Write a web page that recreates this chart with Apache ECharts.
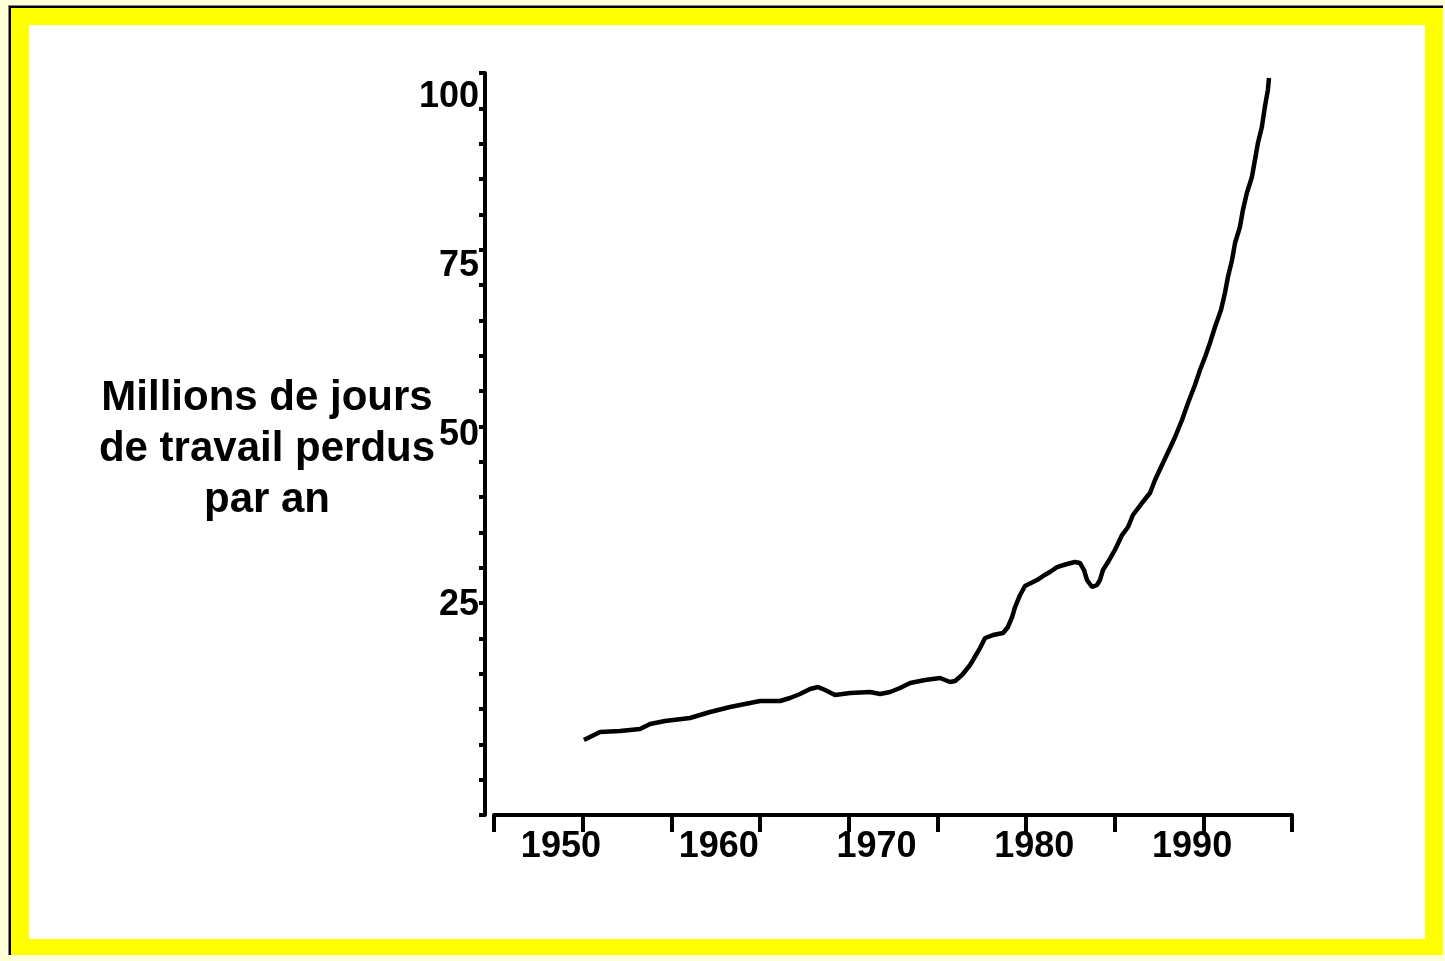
<!DOCTYPE html>
<html>
<head>
<meta charset="utf-8">
<script src="https://cdn.jsdelivr.net/npm/echarts@6/dist/echarts.min.js"></script>
<style>
  html, body { margin: 0; padding: 0; width: 1445px; height: 961px; overflow: hidden; background: #FFFFD8; }
  .f { position: absolute; }
  #f1 { left: 8px; top: 5px; width: 1435px; height: 950px; background: #808080; }
  #f2 { left: 9px; top: 6px; width: 1434px; height: 949px; background: #000000; }
  #f3 { left: 11px; top: 8px; width: 1432px; height: 947px; background: #FFFF00; }
  #f4 { left: 29px; top: 25px; width: 1396px; height: 914px; background: #FFFFFF; }
  #chart { position: absolute; left: 0; top: 0; width: 1445px; height: 961px; }
</style>
</head>
<body>
<div class="f" id="f1"></div>
<div class="f" id="f2"></div>
<div class="f" id="f3"></div>
<div class="f" id="f4"></div>
<div id="chart"></div>
<script>
// Years (x) and millions of working days lost per year (y)
const years = [1951.46, 1952.48, 1953.75, 1955.01, 1955.65, 1956.60, 1958.18, 1959.45, 1960.72, 1962.62,
  1963.89, 1964.52, 1965.15, 1965.79, 1966.30, 1966.74, 1967.37, 1968.33, 1969.59, 1970.23,
  1970.86, 1971.49, 1972.13, 1973.08, 1974.03, 1974.66, 1974.98, 1975.42, 1975.93, 1976.56,
  1976.88, 1977.38, 1978.02, 1978.33, 1978.59, 1978.78, 1979.10, 1979.41, 1980.17, 1980.55,
  1980.99, 1981.44, 1982.07, 1982.58, 1982.89, 1983.15, 1983.34, 1983.66, 1983.97, 1984.16,
  1984.35, 1984.67, 1985.11, 1985.56, 1985.94, 1986.25, 1986.82, 1987.33, 1987.65, 1988.09,
  1988.60, 1988.92, 1989.36, 1989.74, 1990.18, 1990.50, 1990.82, 1991.13, 1991.45, 1991.83,
  1992.08, 1992.27, 1992.53, 1992.72, 1993.03, 1993.22, 1993.47, 1993.79, 1993.98, 1994.17,
  1994.42, 1994.61, 1994.80, 1994.87];
const daysLost = [5.0, 6.18, 6.33, 6.62, 7.36, 7.80, 8.25, 9.13, 9.87, 10.76,
  10.76, 11.20, 11.79, 12.53, 12.82, 12.38, 11.65, 11.94, 12.09, 11.79,
  12.09, 12.68, 13.42, 13.86, 14.16, 13.57, 13.72, 14.60, 16.08, 18.59,
  20.07, 20.51, 20.81, 21.70, 23.17, 24.65, 26.43, 27.76, 28.64, 29.23,
  29.83, 30.56, 31.01, 31.30, 31.16, 30.12, 28.64, 27.61, 27.90, 28.64,
  30.12, 31.30, 33.08, 35.29, 36.48, 38.25, 40.02, 41.50, 43.42, 45.64,
  48.15, 49.78, 52.29, 54.80, 57.46, 59.68, 61.60, 63.67, 66.04, 68.55,
  71.06, 73.43, 75.94, 78.45, 80.82, 83.33, 85.85, 88.21, 90.72, 93.23,
  95.60, 98.56, 101.06, 102.84];
const xTickLabels = [1950, 1960, 1970, 1980, 1990];
const yTickLabels = [25, 50, 75, 100];
const titleLines = ['Millions de jours', 'de travail perdus', 'par an'];

const chart = echarts.init(document.getElementById('chart'));
const labelFont = { color: '#000', fontSize: 36, fontWeight: 'bold', fontFamily: '"Liberation Sans", Arial, sans-serif' };

chart.setOption({
  backgroundColor: 'transparent',
  animation: false,
  grid: { left: 494, right: 1445 - 1292, top: 73, bottom: 961 - 815, containLabel: false },
  graphic: [{
    type: 'text',
    x: 267, y: 449,
    style: {
      text: titleLines.join('\n'),
      textAlign: 'center',
      textVerticalAlign: 'middle',
      lineHeight: 51,
      fill: '#000',
      font: 'bold 42px "Liberation Sans", Arial, sans-serif'
    }
  }],
  xAxis: [{
    type: 'value', position: 'bottom', min: 1945.76, max: 1996.33,
    axisLine: { show: false }, axisTick: { show: false }, splitLine: { show: false },
    axisLabel: Object.assign({ customValues: xTickLabels, margin: 14, formatter: v => String(v) }, labelFont)
  }, {
    type: 'value', position: 'bottom', min: 0, max: 9, interval: 1,
    axisLine: { show: true, lineStyle: { color: '#000', width: 4 } },
    axisTick: { show: true, inside: false, length: 17, lineStyle: { color: '#000', width: 4 } },
    axisLabel: { show: false }, splitLine: { show: false }
  }],
  yAxis: [{
    type: 'value', position: 'left', offset: 9, min: -6.09, max: 103.58,
    axisLine: { show: false }, axisTick: { show: false }, splitLine: { show: false },
    axisLabel: Object.assign({ customValues: yTickLabels, margin: 6, formatter: v => String(v) }, labelFont)
  }, {
    type: 'value', position: 'left', offset: 9, min: 0, max: 21, interval: 1,
    axisLine: { show: true, lineStyle: { color: '#000', width: 4 } },
    axisTick: { show: true, inside: false, length: 6, lineStyle: { color: '#000', width: 4 } },
    axisLabel: { show: false }, splitLine: { show: false }
  }],
  series: [{
    type: 'line',
    xAxisIndex: 0, yAxisIndex: 0,
    data: years.map((y, i) => [y, daysLost[i]]),
    showSymbol: false,
    symbol: 'none',
    lineStyle: { color: '#000', width: 4.5 },
    z: 5
  }]
});
</script>
</body>
</html>
